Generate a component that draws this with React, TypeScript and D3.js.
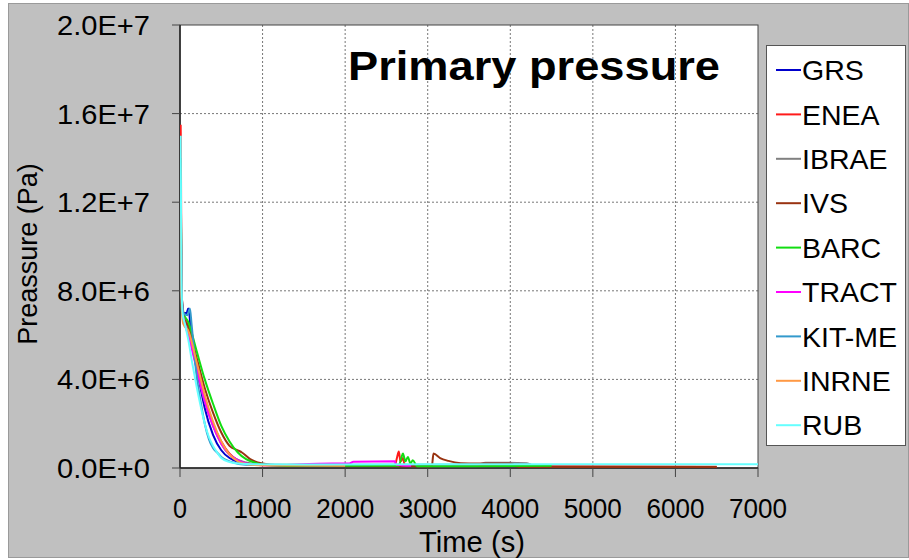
import React from "react";
import * as d3 from "d3";

// ---------- data (time s, pressure Pa) ----------
const seriesNames = ["GRS", "ENEA", "IBRAE", "IVS", "BARC", "TRACT", "KIT-ME", "INRNE", "RUB"];
const seriesColors = ["#0000cc", "#ff1a1a", "#808080", "#993311", "#11dd11", "#ff00ff", "#3399cc", "#ff9944", "#66ffff"];

const grs: [number, number][] = [
  [8, 9.0e6], [20, 7.5e6], [40, 7.0e6], [80, 7.0e6], [100, 7.2e6], [115, 6.9e6], [130, 6.2e6], [180, 5.0e6],
  [250, 3.6e6], [300, 2.7e6], [400, 1.5e6], [500, 0.8e6], [600, 0.45e6], [800, 0.2e6], [1000, 0.15e6], [1500, 0.12e6],
];
const enea: [number, number][] = [
  [8, 15.5e6], [11, 14.5e6], [18, 8.0e6], [40, 7.0e6], [80, 6.6e6], [130, 6.0e6], [200, 4.8e6], [300, 3.2e6],
  [400, 2.0e6], [500, 1.2e6], [600, 0.65e6], [700, 0.35e6], [800, 0.2e6], [1000, 0.12e6], [2000, 0.1e6],
  [2600, 0.1e6], [2630, 0.5e6], [2650, 0.75e6], [2670, 0.3e6], [2700, 0.45e6], [2720, 0.15e6], [2800, 0.1e6],
  [4500, 0.08e6], [6500, 0.06e6],
];
const ibrae: [number, number][] = [
  [8, 14.0e6], [18, 8.0e6], [50, 6.8e6], [100, 6.3e6], [200, 4.5e6], [300, 3.0e6], [400, 1.9e6], [500, 1.1e6],
  [600, 0.6e6], [800, 0.25e6], [1000, 0.15e6], [3600, 0.15e6], [3700, 0.24e6], [4200, 0.22e6], [4250, 0.15e6],
];
const ivs: [number, number][] = [
  [8, 14.0e6], [18, 8.0e6], [40, 6.8e6], [100, 6.4e6], [200, 5.0e6], [300, 3.6e6], [400, 2.5e6], [500, 1.6e6],
  [600, 1.0e6], [700, 0.8e6], [750, 0.7e6], [850, 0.4e6], [1000, 0.2e6], [1200, 0.12e6], [2700, 0.08e6],
  [3050, 0.08e6], [3070, 0.65e6], [3150, 0.45e6], [3250, 0.32e6], [3400, 0.22e6], [3600, 0.2e6], [4000, 0.2e6],
  [4100, 0.06e6], [6500, 0.04e6],
];
const barc: [number, number][] = [
  [8, 13.0e6], [18, 8.0e6], [40, 7.0e6], [100, 6.6e6], [200, 5.3e6], [300, 4.0e6], [400, 2.9e6], [500, 1.9e6],
  [600, 1.2e6], [700, 0.7e6], [800, 0.4e6], [900, 0.25e6], [1000, 0.15e6], [1200, 0.1e6], [2650, 0.1e6],
  [2680, 0.45e6], [2700, 0.65e6], [2730, 0.3e6], [2760, 0.5e6], [2790, 0.2e6], [2820, 0.35e6], [2870, 0.08e6],
  [4500, 0.1e6],
];
const tract: [number, number][] = [
  [8, 12.0e6], [18, 8.2e6], [40, 6.8e6], [100, 6.0e6], [200, 4.5e6], [300, 3.0e6], [400, 1.9e6], [500, 1.1e6],
  [600, 0.6e6], [700, 0.35e6], [800, 0.2e6], [1000, 0.12e6], [1850, 0.2e6], [2050, 0.2e6], [2100, 0.28e6],
  [2600, 0.3e6], [2620, 0.15e6], [2800, 0.1e6],
];
const kitme: [number, number][] = [
  [8, 13.0e6], [18, 8.0e6], [40, 7.0e6], [90, 6.9e6], [120, 7.2e6], [140, 6.5e6], [200, 4.2e6], [250, 3.0e6],
  [300, 2.0e6], [350, 1.3e6], [400, 0.9e6], [450, 0.7e6], [500, 0.5e6], [600, 0.3e6], [800, 0.15e6], [2000, 0.12e6],
];
const inrne: [number, number][] = [
  [8, 12.0e6], [18, 7.5e6], [40, 6.5e6], [100, 6.2e6], [200, 4.8e6], [300, 3.3e6], [400, 2.1e6], [500, 1.2e6],
  [600, 0.6e6], [700, 0.3e6], [800, 0.18e6], [1000, 0.12e6], [2000, 0.1e6],
];
const rub: [number, number][] = [
  [8, 15.0e6], [12, 12.0e6], [18, 8.5e6], [30, 7.0e6], [60, 6.5e6], [100, 5.8e6], [150, 4.7e6], [200, 3.7e6],
  [250, 2.8e6], [300, 2.0e6], [350, 1.4e6], [400, 1.0e6], [450, 0.7e6], [500, 0.45e6], [600, 0.27e6],
  [700, 0.2e6], [900, 0.17e6], [1500, 0.16e6], [3000, 0.17e6], [5000, 0.17e6], [7000, 0.17e6],
];
const seriesData = [grs, enea, ibrae, ivs, barc, tract, kitme, inrne, rub];

const xTicks = [0, 1000, 2000, 3000, 4000, 5000, 6000, 7000];
const yTicks = [0, 4e6, 8e6, 1.2e7, 1.6e7, 2e7];
const yTickLabels = ["0.0E+0", "4.0E+6", "8.0E+6", "1.2E+7", "1.6E+7", "2.0E+7"];

// ---------- layout ----------
const W = 909, H = 560;
const L = 180, T = 25, R = 758, B = 468;
const FONT = "'Liberation Sans', Arial, sans-serif";

export default function App() {
  const x = d3.scaleLinear().domain([0, 7000]).range([L, R]);
  const y = d3.scaleLinear().domain([0, 2e7]).range([B, T]);
  const line = d3
    .line<[number, number]>()
    .x((d) => x(d[0]))
    .y((d) => y(d[1]))
    .curve(d3.curveMonotoneX);

  const legX = 766, legY = 45, legW = 139, legH = 400;
  const legStep = 44.4;

  return (
    <div style={{ position: "fixed", left: 0, top: 0 }}>
      <svg width={W} height={H} style={{ display: "block", background: "#fff" }}>
        <rect x={8.5} y={3.5} width={900} height={554} fill="#c0c0c0" stroke="#9a9a9a" />
        <clipPath id="plotclip">
          <rect x={L} y={T} width={R - L} height={B - T} />
        </clipPath>
        <rect x={L} y={T} width={R - L} height={B - T} fill="#fff" />
        {/* grid */}
        {xTicks.filter((t) => t > 0 && t < 7000).map((t) => (
          <line key={"gx" + t} x1={x(t)} x2={x(t)} y1={T} y2={B} stroke="#777" strokeWidth={1} strokeDasharray="2,2" />
        ))}
        {yTicks.filter((t) => t > 0 && t < 2e7).map((t) => (
          <line key={"gy" + t} x1={L} x2={R} y1={y(t)} y2={y(t)} stroke="#777" strokeWidth={1} strokeDasharray="2,2" />
        ))}
        {/* title */}
        <text x={348} y={80} fontFamily={FONT} fontWeight="bold" fontSize={41} textLength={372} lengthAdjust="spacingAndGlyphs" fill="#000">
          Primary pressure
        </text>
        {/* frame */}
        <rect x={L} y={T} width={R - L} height={B - T} fill="none" stroke="#444" strokeWidth={1} />
        <line x1={L} x2={L} y1={T} y2={B} stroke="#222" strokeWidth={1.5} />
        <line x1={L} x2={R} y1={B} y2={B} stroke="#222" strokeWidth={1.5} />
        {/* series */}
        <g clipPath="url(#plotclip)">
          {seriesData.map((d, i) => (
            <path key={seriesNames[i]} d={line(d) || ""} fill="none" stroke={seriesColors[i]} strokeWidth={2} strokeLinejoin="round" />
          ))}
        </g>
        {/* y ticks */}
        {yTicks.map((t, i) => (
          <g key={"yt" + t}>
            <line x1={L - 8} x2={L} y1={y(t)} y2={y(t)} stroke="#444" />
            <text x={150} y={y(t)} dy="0.36em" textAnchor="end" fontFamily={FONT} fontSize={27.5} textLength={93} lengthAdjust="spacingAndGlyphs" fill="#000">
              {yTickLabels[i]}
            </text>
          </g>
        ))}
        {/* x ticks */}
        {xTicks.map((t) => (
          <g key={"xt" + t}>
            <line x1={x(t)} x2={x(t)} y1={B} y2={B + 9} stroke="#444" />
            <text
              x={x(t)}
              y={518}
              textAnchor="middle"
              fontFamily={FONT}
              fontSize={28}
              textLength={t === 0 ? 14 : 58}
              lengthAdjust="spacingAndGlyphs"
              fill="#000"
            >
              {t}
            </text>
          </g>
        ))}
        <text x={472} y={552} textAnchor="middle" fontFamily={FONT} fontSize={29} textLength={106} lengthAdjust="spacingAndGlyphs" fill="#000">
          Time (s)
        </text>
        <text transform="translate(37,254) rotate(-90)" textAnchor="middle" fontFamily={FONT} fontSize={27} fill="#000">
          Preassure (Pa)
        </text>
        {/* legend */}
        <rect x={legX + 0.5} y={legY + 0.5} width={legW} height={legH} fill="#fff" stroke="#555" />
        {seriesNames.map((n, i) => {
          const cy = legY + 25 + i * legStep;
          return (
            <g key={"lg" + n}>
              <line x1={776} x2={801} y1={cy} y2={cy} stroke={seriesColors[i]} strokeWidth={2} />
              <text x={802} y={cy} dy="0.36em" fontFamily={FONT} fontSize={28.5} fill="#000">
                {n}
              </text>
            </g>
          );
        })}
      </svg>
    </div>
  );
}
